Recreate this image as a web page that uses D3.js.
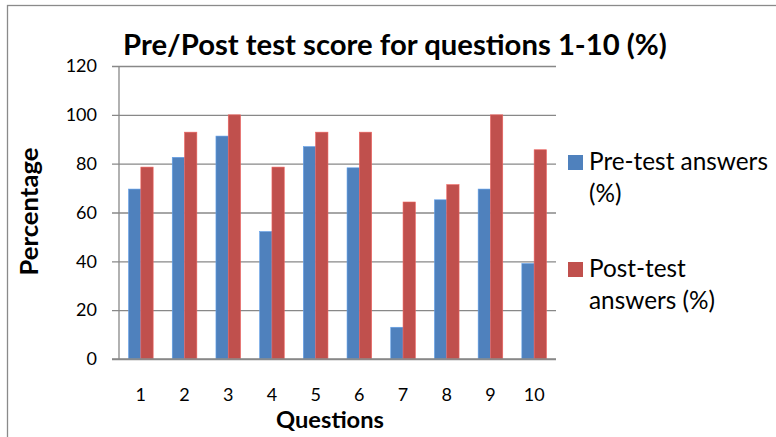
<!DOCTYPE html>
<html>
<head>
<meta charset="utf-8">
<script src="https://cdn.jsdelivr.net/npm/d3@7"></script>
<style>
  body { margin: 0; background: #fff; }
  svg { display: block; font-family: Lato, "Open Sans", sans-serif; }
</style>
</head>
<body>
<svg id="chart" width="776" height="437"></svg>
<script>
'use strict';

var questions = ['1', '2', '3', '4', '5', '6', '7', '8', '9', '10'];
var preTest = [69.6, 82.6, 91.3, 52.2, 87.0, 78.3, 13.0, 65.2, 69.6, 39.1];
var postTest = [78.6, 92.9, 100, 78.6, 92.9, 92.9, 64.3, 71.4, 100, 85.7];
var yTicks = [0, 20, 40, 60, 80, 100, 120];
var seriesNames = ['Pre-test answers (%)', 'Post-test answers (%)'];
var seriesColors = ['#4f81bd', '#c0504d'];
var legendLines = [['Pre-test answers', '(%)'], ['Post-test', 'answers (%)']];

var svg = d3.select('#chart');
var plot = {left: 119, right: 556, top: 66, bottom: 359};

// fit a text node to a target width by scaling its font size
function fitWidth(sel, target) {
  var w = sel.node().getComputedTextLength();
  var fs = parseFloat(sel.attr('font-size'));
  sel.attr('font-size', fs * target / w);
}

// chart border (runs off the right and bottom of the picture)
svg.append('rect')
  .attr('x', 7.5).attr('y', 5.5)
  .attr('width', 900).attr('height', 600)
  .attr('fill', 'none')
  .attr('stroke', '#8a8a8a')
  .attr('stroke-width', 1.3);

var x = d3.scaleBand()
  .domain(questions)
  .range([plot.left, plot.right])
  .paddingInner(0.437)
  .paddingOuter(0.437 / 2);

var xSeries = d3.scaleBand()
  .domain([0, 1])
  .range([0, x.bandwidth()]);

var y = d3.scaleLinear()
  .domain([0, 120])
  .range([plot.bottom, plot.top]);

// gridlines + left ticks
var yAxis = d3.axisLeft(y)
  .tickValues(yTicks)
  .tickSize(-(plot.right - plot.left))
  .tickPadding(15);

var gy = svg.append('g')
  .attr('transform', 'translate(' + plot.left + ',0)')
  .call(yAxis);
gy.select('.domain').remove();
gy.selectAll('.tick line')
  .attr('x1', -7)
  .attr('stroke', '#888')
  .attr('stroke-width', 1.3);
gy.selectAll('.tick text')
  .attr('font-family', 'Lato, sans-serif')
  .attr('font-size', 18)
  .attr('fill', '#000')
  .attr('x', -22);

// y axis line
svg.append('line')
  .attr('x1', plot.left).attr('x2', plot.left)
  .attr('y1', plot.top).attr('y2', plot.bottom)
  .attr('stroke', '#888')
  .attr('stroke-width', 1.3);

// bars
var rows = questions.map(function (q, i) {
  return {q: q, values: [preTest[i], postTest[i]]};
});

var groups = svg.append('g').selectAll('g')
  .data(rows)
  .join('g')
  .attr('transform', function (d) { return 'translate(' + x(d.q) + ',0)'; });

groups.selectAll('rect')
  .data(function (d) { return d.values.map(function (v, s) { return {v: v, s: s}; }); })
  .join('rect')
  .attr('x', function (d) { return xSeries(d.s); })
  .attr('width', xSeries.bandwidth())
  .attr('y', function (d) { return y(d.v); })
  .attr('height', function (d) { return y(0) - y(d.v); })
  .attr('fill', function (d) { return seriesColors[d.s]; })
  .attr('stroke', function (d) { return d3.color(seriesColors[d.s]).brighter(0.6); })
  .attr('stroke-width', 0.6);

// x axis line
svg.append('line')
  .attr('x1', plot.left - 7).attr('x2', plot.right)
  .attr('y1', plot.bottom).attr('y2', plot.bottom)
  .attr('stroke', '#888')
  .attr('stroke-width', 1.3);

// x tick labels
svg.append('g').selectAll('text')
  .data(questions)
  .join('text')
  .attr('x', function (d) { return x(d) + x.bandwidth() / 2; })
  .attr('y', 401)
  .attr('text-anchor', 'middle')
  .attr('font-size', 18)
  .attr('fill', '#000')
  .text(function (d) { return d; });

// title
var title = svg.append('text')
  .attr('x', 395).attr('y', 55)
  .attr('text-anchor', 'middle')
  .attr('font-weight', 'bold')
  .attr('font-size', 24)
  .text('Pre/Post test score for questions 1-10 (%)');
fitWidth(title, 544);

// axis titles
var xTitle = svg.append('text')
  .attr('x', 330).attr('y', 427.5)
  .attr('text-anchor', 'middle')
  .attr('font-weight', 'bold')
  .attr('font-size', 21)
  .text('Questions');
fitWidth(xTitle, 108);

var yTitle = svg.append('text')
  .attr('transform', 'translate(38,211.5) rotate(-90)')
  .attr('text-anchor', 'middle')
  .attr('font-weight', 'bold')
  .attr('font-size', 21)
  .text('Percentage');
fitWidth(yTitle, 128);

// legend
var legendY = [170, 277];
var legend = svg.append('g').selectAll('g')
  .data(seriesNames)
  .join('g')
  .attr('transform', function (d, i) { return 'translate(568,' + legendY[i] + ')'; });

legend.append('rect')
  .attr('x', 0).attr('y', -15)
  .attr('width', 15).attr('height', 15)
  .attr('fill', function (d, i) { return seriesColors[i]; });

var legendText = legend.append('text')
  .attr('x', 21)
  .attr('font-size', 22)
  .attr('fill', '#000');

legendText.selectAll('tspan')
  .data(function (d, i) { return legendLines[i]; })
  .join('tspan')
  .attr('x', 21)
  .attr('dy', function (d, j) { return j === 0 ? 0 : 31.5; })
  .text(function (d) { return d; });

// scale legend text so "Pre-test answers" spans the same width as in the chart
var firstLine = legendText.filter(function (d, i) { return i === 0; }).select('tspan');
var lineW = firstLine.node().getComputedTextLength();
legendText.attr('font-size', 22 * 179 / lineW);
</script>
</body>
</html>
